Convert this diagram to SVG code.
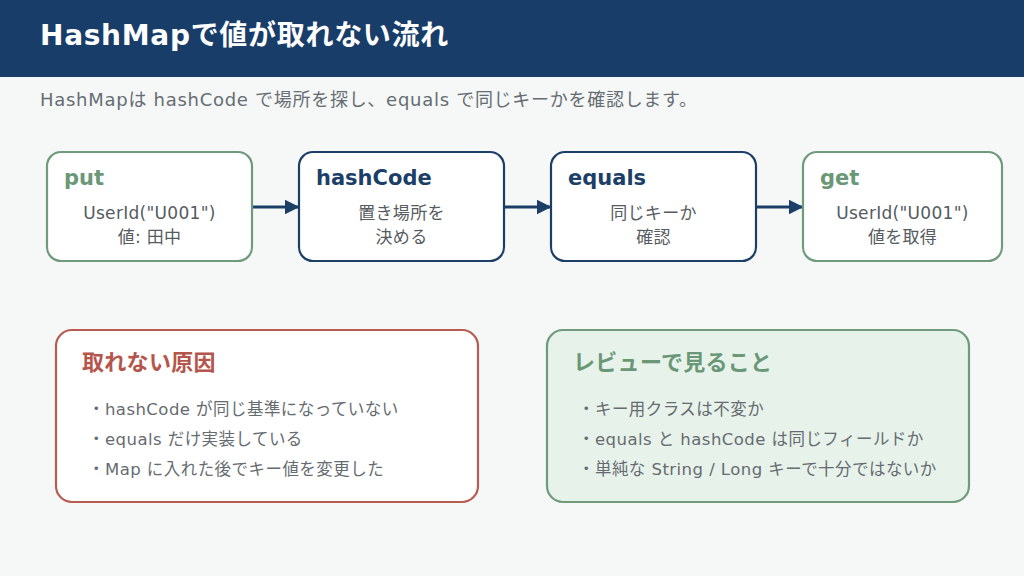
<svg xmlns="http://www.w3.org/2000/svg" width="1024" height="576" viewBox="0 0 1024 576">
<defs>
<style>
text{font-family:"DejaVu Sans","Noto Sans CJK JP",sans-serif}
.title{font-size:28px;font-weight:700;fill:#ffffff;letter-spacing:0.7px}
.sub{font-size:18px;fill:#666d72;letter-spacing:0.72px}
.node{fill:#ffffff;stroke-width:2.2}
.green{stroke:#6f9a7c}
.blue{stroke:#1c3f68}
.nt{font-size:21px;font-weight:700}
.bt{font-size:22px;font-weight:700;letter-spacing:0.3px}
.ntg{fill:#6a9877}
.ntb{fill:#1c3f68}
.body{font-size:17px;fill:#555b60;text-anchor:middle;letter-spacing:0.3px}
.conn{stroke:#1c3f68;stroke-width:3;fill:none;marker-end:url(#ah)}
.bul{font-size:16.5px;fill:#666b70;letter-spacing:0.45px}
</style>
<marker id="ah" viewBox="0 0 10 10" refX="9" refY="5" markerWidth="5" markerHeight="5" orient="auto" markerUnits="strokeWidth">
<path d="M0,0 L10,5 L0,10 z" fill="#1c3f68"/>
</marker>
</defs>
<rect x="0" y="0" width="1024" height="576" fill="#f5f8f7"/>
<rect x="0" y="0" width="1024" height="77" fill="#183d69"/>
<text class="title" x="40" y="45">HashMapで値が取れない流れ</text>
<text class="sub" x="40" y="106">HashMapは hashCode で場所を探し、equals で同じキーかを確認します。</text>

<g id="connectors">
<line class="conn" x1="253" y1="207" x2="298" y2="207"/>
<line class="conn" x1="505" y1="207" x2="550" y2="207"/>
<line class="conn" x1="757" y1="207" x2="802" y2="207"/>
</g>

<g id="put">
<rect class="node green" x="47" y="152" width="205" height="109" rx="14"/>
<text class="nt ntg" x="64" y="185">put</text>
<text class="body" x="149.5" y="219">UserId("U001")</text>
<text class="body" x="149.5" y="243">値: 田中</text>
</g>
<g id="hashCode">
<rect class="node blue" x="299" y="152" width="205" height="109" rx="14"/>
<text class="nt ntb" x="316" y="185">hashCode</text>
<text class="body" x="401.5" y="219">置き場所を</text>
<text class="body" x="401.5" y="243">決める</text>
</g>
<g id="equals">
<rect class="node blue" x="551" y="152" width="205" height="109" rx="14"/>
<text class="nt ntb" x="568" y="185">equals</text>
<text class="body" x="653.5" y="219">同じキーか</text>
<text class="body" x="653.5" y="243">確認</text>
</g>
<g id="get">
<rect class="node green" x="803" y="152" width="199" height="109" rx="14"/>
<text class="nt ntg" x="820" y="185">get</text>
<text class="body" x="902.5" y="219">UserId("U001")</text>
<text class="body" x="902.5" y="243">値を取得</text>
</g>

<g id="causes">
<rect x="56" y="330" width="422" height="172" rx="16" fill="#ffffff" stroke="#b85c52" stroke-width="2.2"/>
<text class="bt" x="82" y="370" fill="#b5554b">取れない原因</text>
<text class="bul" x="88" y="415">・hashCode が同じ基準になっていない</text>
<text class="bul" x="88" y="445">・equals だけ実装している</text>
<text class="bul" x="88" y="475">・Map に入れた後でキー値を変更した</text>
</g>
<g id="review">
<rect x="547" y="330" width="422" height="172" rx="16" fill="#e7f2eb" stroke="#6f9a7c" stroke-width="2.2"/>
<text class="bt" x="573" y="370" fill="#6a9877">レビューで見ること</text>
<text class="bul" x="578" y="415">・キー用クラスは不変か</text>
<text class="bul" x="578" y="445">・equals と hashCode は同じフィールドか</text>
<text class="bul" x="578" y="475">・単純な String / Long キーで十分ではないか</text>
</g>
</svg>
